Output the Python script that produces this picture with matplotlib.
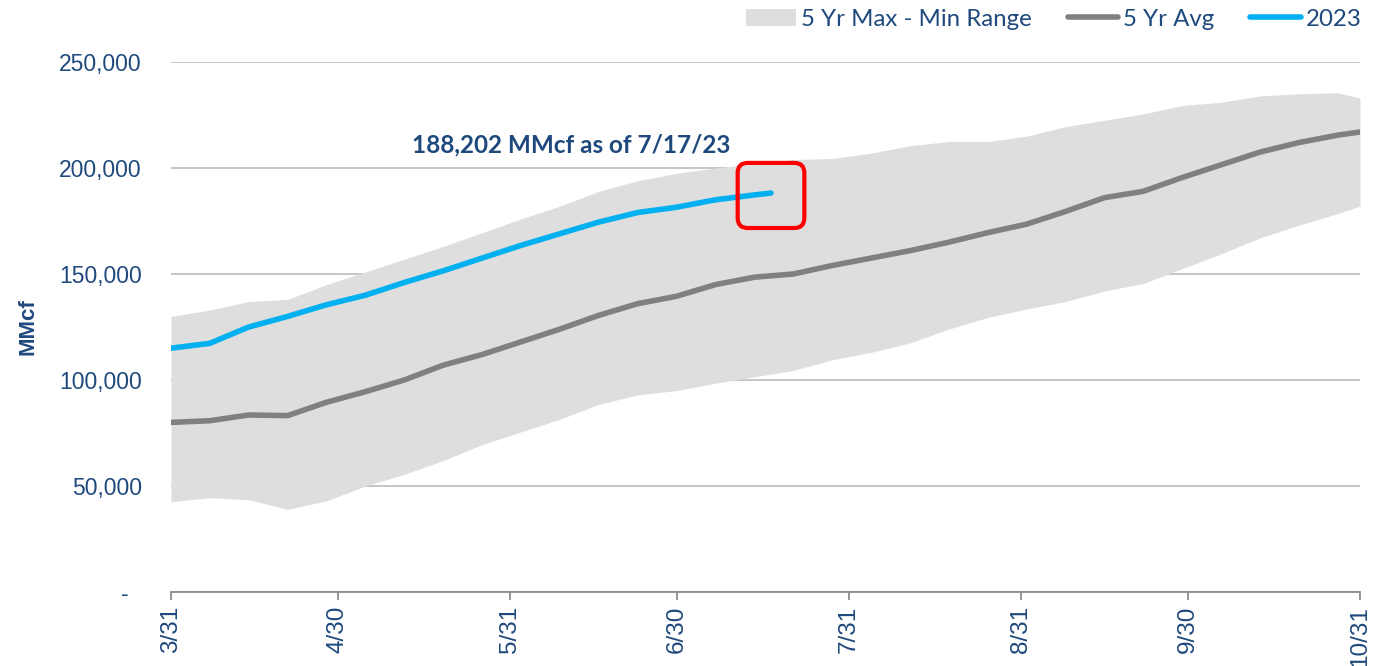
import pandas as pd
import matplotlib.pyplot as plt
import matplotlib.dates as mdates
from matplotlib.patches import Patch, FancyBboxPatch
from matplotlib.lines import Line2D
from matplotlib.transforms import IdentityTransform

plt.rcParams['font.family'] = ['Liberation Sans', 'DejaVu Sans']

# weekly readings, MMcf
week_dates = ['2023-03-31', '2023-04-07', '2023-04-14', '2023-04-21', '2023-04-28',
              '2023-05-05', '2023-05-12', '2023-05-19', '2023-05-26', '2023-06-02',
              '2023-06-09', '2023-06-16', '2023-06-23', '2023-06-30', '2023-07-07',
              '2023-07-14', '2023-07-21', '2023-07-28', '2023-08-04', '2023-08-11',
              '2023-08-18', '2023-08-25', '2023-09-01', '2023-09-08', '2023-09-15',
              '2023-09-22', '2023-09-29', '2023-10-06', '2023-10-13', '2023-10-20',
              '2023-10-27', '2023-10-31']
range_max = [130000, 133000, 137000, 138000, 145000, 151000, 157000, 163000, 169500, 176000,
             182000, 189000, 194000, 197500, 200000, 202000, 204000, 204500, 207000, 210500,
             212500, 212500, 215000, 219500, 222500, 225500, 229500, 231000, 234000, 235000,
             235500, 233000]
range_min = [42600, 44500, 43500, 39000, 43000, 50000, 55500, 62000, 69500, 75500,
             81500, 88500, 93000, 95000, 98500, 101500, 104500, 109500, 113000, 117500,
             124000, 129500, 133500, 137000, 142000, 145500, 152500, 159500, 167000, 173000,
             178500, 182000]
avg_5yr = [80000, 80800, 83500, 83200, 89500, 94500, 100000, 107000, 112000, 118000,
           124000, 130500, 136000, 139500, 145000, 148500, 150000, 154000, 157500, 161000,
           165000, 169500, 173500, 179500, 186000, 189000, 195500, 201500, 207500, 212000,
           215500, 217000]

dates_2023 = ['2023-03-31', '2023-04-07', '2023-04-14', '2023-04-21', '2023-04-28',
              '2023-05-05', '2023-05-12', '2023-05-19', '2023-05-26', '2023-06-02',
              '2023-06-09', '2023-06-16', '2023-06-23', '2023-06-30', '2023-07-07',
              '2023-07-14', '2023-07-17']
vals_2023 = [115000, 117300, 125000, 130000, 135500, 140000, 146000, 151500, 157500, 163500,
             169000, 174500, 179000, 181500, 185000, 187300, 188202]

tick_dates = ['2023-03-31', '2023-04-30', '2023-05-31', '2023-06-30',
              '2023-07-31', '2023-08-31', '2023-09-30', '2023-10-31']
y_ticks = [0, 50000, 100000, 150000, 200000, 250000]

navy = '#1F497D'
band_c = '#DEDEDE'
avg_c = '#808080'
line_c = '#00B0F0'

wd = pd.to_datetime(week_dates)
d23 = pd.to_datetime(dates_2023)
td = pd.to_datetime(tick_dates)

fig = plt.figure(figsize=(13.73, 6.66), dpi=100)
ax = fig.add_axes([0.1245, 0.1111, 0.866, 0.7958])

ax.fill_between(wd, range_min, range_max, color=band_c, lw=0, zorder=1)
ax.plot(wd, avg_5yr, color=avg_c, lw=4, solid_capstyle='round', zorder=3)
ax.plot(d23, vals_2023, color=line_c, lw=4, solid_capstyle='round', zorder=4)

ax.set_xlim(td[0], td[-1])
ax.set_ylim(0, 250000)
ax.set_yticks(y_ticks)
ax.set_yticklabels(['-  '] + [f'{v:,.0f}' for v in y_ticks[1:]])
ax.set_xticks(td)
ax.set_xticklabels([f'{d.month}/{d.day}' for d in td], rotation=90)
ax.grid(axis='y', color='#C0C0C0', lw=1.3, zorder=0)
ax.set_axisbelow(True)

for s in ['left', 'right', 'top']:
    ax.spines[s].set_visible(False)
ax.spines['bottom'].set_color('#8C8C8C')
ax.spines['bottom'].set_linewidth(1.3)
ax.tick_params(axis='y', length=0, pad=21, labelsize=16.5, labelcolor=navy)
ax.tick_params(axis='x', length=6, width=1.3, color='#8C8C8C', pad=4,
               labelsize=17.5, labelcolor=navy)

ax.set_ylabel('MMcf', fontsize=16, fontweight='bold', color=navy, labelpad=15)

# annotation
ax.text(pd.Timestamp('2023-06-11'), 210800, '188,202 MMcf as of 7/17/23',
        fontsize=17.5, fontweight='bold', color=navy, ha='center', va='center',
        family=['Lato', 'DejaVu Sans'])

# red rounded box around the last 2023 point
fig.canvas.draw()
x0, y0 = ax.transData.transform((mdates.date2num(pd.Timestamp('2023-07-11')), 171700))
x1, y1 = ax.transData.transform((mdates.date2num(pd.Timestamp('2023-07-23')), 202400))
box = FancyBboxPatch((x0, y0), x1 - x0, y1 - y0,
                     boxstyle='round,pad=0,rounding_size=10',
                     fill=False, ec='#FF0000', lw=3, transform=IdentityTransform(), zorder=5)
fig.add_artist(box)

# legend
handles = [Patch(facecolor=band_c, edgecolor='none'),
           Line2D([], [], color=avg_c, lw=4, solid_capstyle='round'),
           Line2D([], [], color=line_c, lw=4, solid_capstyle='round')]
labels = ['5 Yr Max - Min Range', '5 Yr Avg', '2023']
leg = fig.legend(handles, labels, loc='upper right', bbox_to_anchor=(0.995, 0.994), ncol=3,
                 frameon=False, handlelength=2.1, handletextpad=0.2, columnspacing=1.5,
                 borderpad=0.2, borderaxespad=0,
                 prop={'family': ['Lato', 'DejaVu Sans'], 'size': 17.3})
for t in leg.get_texts():
    t.set_color(navy)

plt.savefig('out.png', dpi=100)
